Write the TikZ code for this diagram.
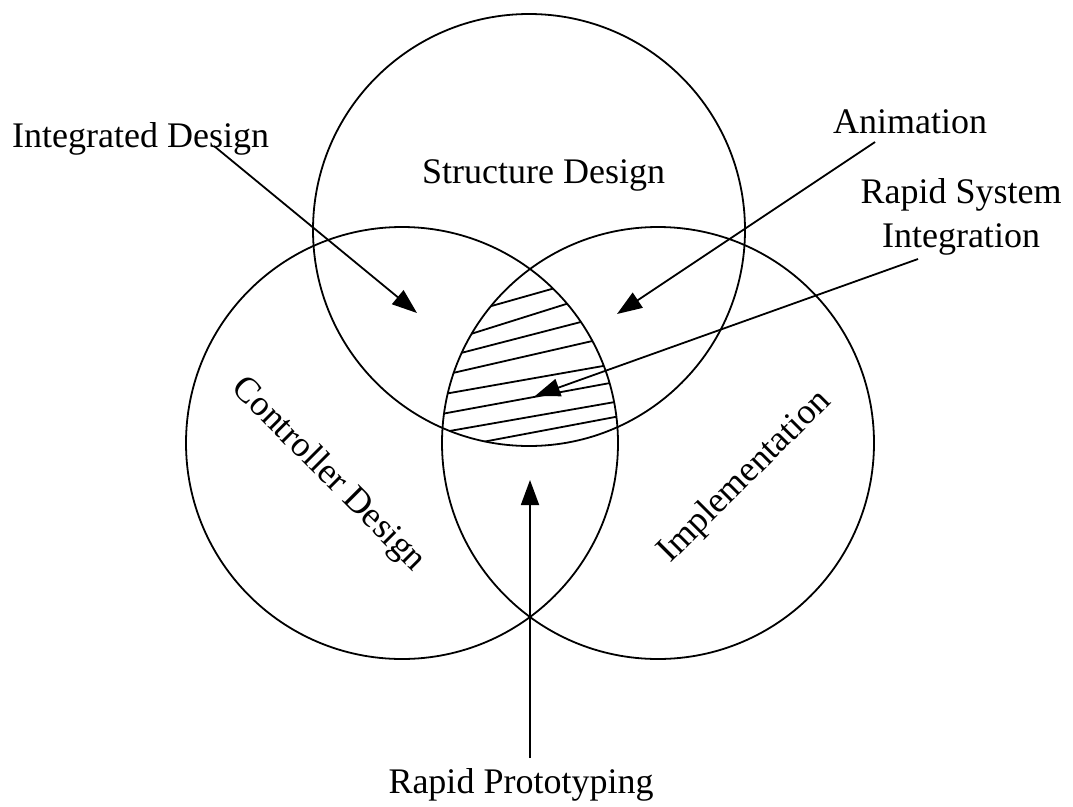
\documentclass[tikz,border=0pt]{standalone}
\usepackage{fontspec}
\setmainfont{Liberation Serif}
\usetikzlibrary{arrows.meta}
\begin{document}
\begin{tikzpicture}[x=1pt,y=-1pt,
  ring/.style={line width=1.8pt},
  lbl/.style={font=\fontsize{36}{43}\selectfont, inner sep=0pt},
  pointer/.style={line width=1.8pt, -{Triangle[length=25pt,width=18pt]}},
  hatch/.style={line width=1.8pt}]
\useasboundingbox (0,0) rectangle (1073,806);
% circles
\coordinate (cS) at (529,230);
\coordinate (cC) at (402,443);
\coordinate (cI) at (658,443);
\draw[ring] (cS) circle (216pt);
\draw[ring] (cC) circle (216pt);
\draw[ring] (cI) circle (216pt);
% hatching of the common part
\begin{scope}
  \clip (cS) circle (216pt);
  \clip (cC) circle (216pt);
  \clip (cI) circle (216pt);
  \draw[hatch] (430,323.4) -- (640,264.0);
  \draw[hatch] (430,346.8) -- (640,280.8);
  \draw[hatch] (430,361.0) -- (640,306.7);
  \draw[hatch] (430,378.2) -- (640,330.1);
  \draw[hatch] (430,396.5) -- (640,359.5);
  \draw[hatch] (430,416.1) -- (640,377.5);
  \draw[hatch] (430,434.4) -- (640,397.6);
  \draw[hatch] (430,451.9) -- (640,412.3);
\end{scope}
% circle labels
\node[lbl, anchor=base west] (sd) at (422,183) {Structure Design};
\node[lbl, rotate=-45] (cd) at (328,475) {Controller Design};
\node[lbl, rotate=45] (im) at (745,477) {Implementation};
% outside labels
\node[lbl, anchor=base west] (id) at (12,147) {Integrated Design};
\node[lbl, anchor=base west] (an) at (833,133) {Animation};
\node[lbl, anchor=base] (rs1) at (961,203) {Rapid System};
\node[lbl, anchor=base] (rs2) at (961,247) {Integration};
\node[lbl, anchor=base] (rp) at (521,793) {Rapid Prototyping};
% connector ends
\coordinate (idA) at (214,146);
\coordinate (idB) at (417,313);
\coordinate (anA) at (875,142);
\coordinate (anB) at (617,314);
\coordinate (rsA) at (918,259);
\coordinate (rsB) at (535,396);
\coordinate (rpA) at (530,758);
\coordinate (rpB) at (530,480);
\draw[pointer] (idA) -- (idB);
\draw[pointer] (anA) -- (anB);
\draw[pointer] (rsA) -- (rsB);
\draw[pointer] (rpA) -- (rpB);
\end{tikzpicture}
\end{document}
